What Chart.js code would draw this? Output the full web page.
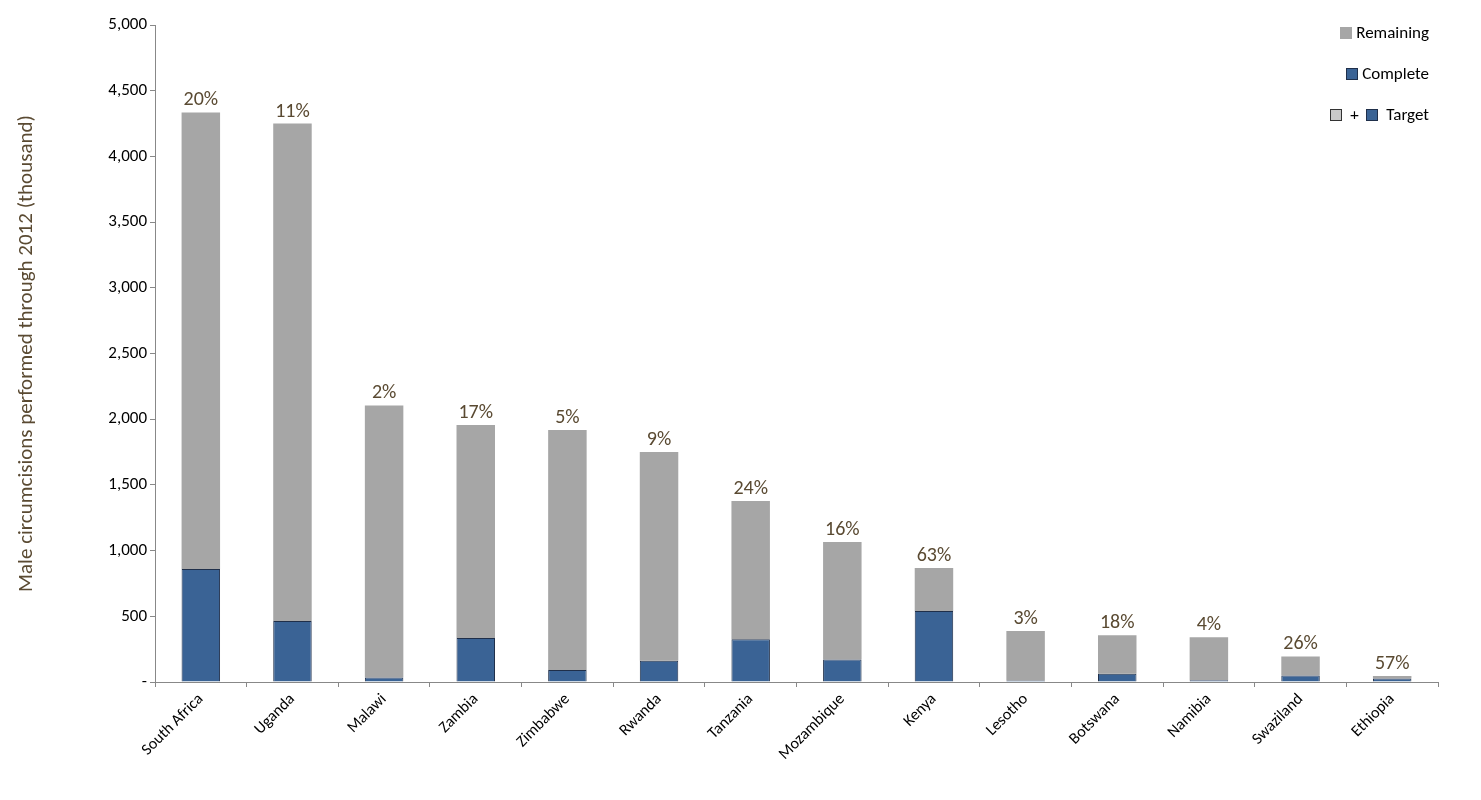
<!DOCTYPE html>
<html>
<head>
<meta charset="utf-8">
<script src="https://cdn.jsdelivr.net/npm/chart.js@4.4.0/dist/chart.umd.min.js"></script>
<style>
  body { margin: 0; background: #fff; font-family: Calibri, "Liberation Sans", "Open Sans", sans-serif; }
  #wrap { position: relative; width: 1481px; height: 800px; }
  #legend { position: absolute; right: 52px; top: 22px; font-size: 17px; color: #000; }
  #legend div { display: flex; align-items: center; justify-content: flex-end; height: 21px; margin-bottom: 20px; }
  .sw { display: inline-block; width: 12px; height: 12px; margin-right: 4px; box-sizing: border-box; }
  .g { background: #a6a6a6; }
  .b { background: #3a6395; border: 1px solid #1f2f4a; }
  .gb { background: #c8c8c8; border: 1px solid #333; }
</style>
</head>
<body>
<div id="wrap">
  <canvas id="c" width="1481" height="800"></canvas>
  <div id="legend">
    <div><span class="sw g"></span>Remaining</div>
    <div><span class="sw b"></span>Complete</div>
    <div><span class="sw gb"></span>&nbsp;+&nbsp;&nbsp;<span class="sw b"></span>&nbsp;Target</div>
  </div>
</div>
<script>
const countries = ["South Africa", "Uganda", "Malawi", "Zambia", "Zimbabwe", "Rwanda", "Tanzania",
  "Mozambique", "Kenya", "Lesotho", "Botswana", "Namibia", "Swaziland", "Ethiopia"];
const targets = [4335, 4250, 2105, 1955, 1918, 1750, 1377, 1065, 868, 388, 355, 340, 195, 46];
const complete = [860, 464, 35, 335, 92, 162, 325, 172, 540, 12, 62, 14, 50, 26];
const pctLabels = ["20%", "11%", "2%", "17%", "5%", "9%", "24%", "16%", "63%", "3%", "18%", "4%", "26%", "57%"];
const remaining = targets.map((t, i) => t - complete[i]);

const pctPlugin = {
  id: "pct",
  afterDatasetsDraw(chart) {
    const ctx = chart.ctx;
    const meta = chart.getDatasetMeta(1);
    ctx.save();
    ctx.font = "20px Calibri, 'Liberation Sans', sans-serif";
    ctx.fillStyle = "#5a4a32";
    ctx.textAlign = "center";
    ctx.textBaseline = "bottom";
    meta.data.forEach((bar, i) => ctx.fillText(pctLabels[i], bar.x, bar.y - 2));
    ctx.restore();
  }
};

new Chart(document.getElementById("c"), {
  type: "bar",
  data: {
    labels: countries,
    datasets: [
      { label: "Complete", data: complete, backgroundColor: "#3a6395", borderColor: "#1f2f4a", borderWidth: 1, barPercentage: 0.42, categoryPercentage: 1 },
      { label: "Remaining", data: remaining, backgroundColor: "#a6a6a6", borderWidth: 0, barPercentage: 0.42, categoryPercentage: 1 }
    ]
  },
  options: {
    responsive: false,
    animation: false,
    layout: { padding: { left: 10, right: 43, top: 25, bottom: 0 } },
    plugins: { legend: { display: false }, tooltip: { enabled: false } },
    scales: {
      x: {
        stacked: true,
        afterFit: s => { s.height = 118; },
        grid: { drawOnChartArea: false, drawTicks: true, tickLength: 5, color: "#888", offset: true },
        border: { color: "#888" },
        ticks: { color: "#000", font: { size: 16, family: "Calibri, 'Liberation Sans', sans-serif" }, maxRotation: 45, minRotation: 45 }
      },
      y: {
        stacked: true,
        min: 0, max: 5000,
        afterFit: s => { s.width = 145; },
        grid: { drawOnChartArea: false, drawTicks: true, tickLength: 5, color: "#888" },
        border: { color: "#888" },
        ticks: {
          stepSize: 500, color: "#000",
          font: { size: 17, family: "Calibri, 'Liberation Sans', sans-serif" },
          callback: v => v === 0 ? "-" : v.toLocaleString("en-US")
        },
        title: { display: true, text: "Male circumcisions performed through 2012 (thousand)", color: "#5a4a32",
          font: { size: 21, family: "Calibri, 'Liberation Sans', sans-serif" } }
      }
    }
  },
  plugins: [pctPlugin]
});
</script>
</body>
</html>
